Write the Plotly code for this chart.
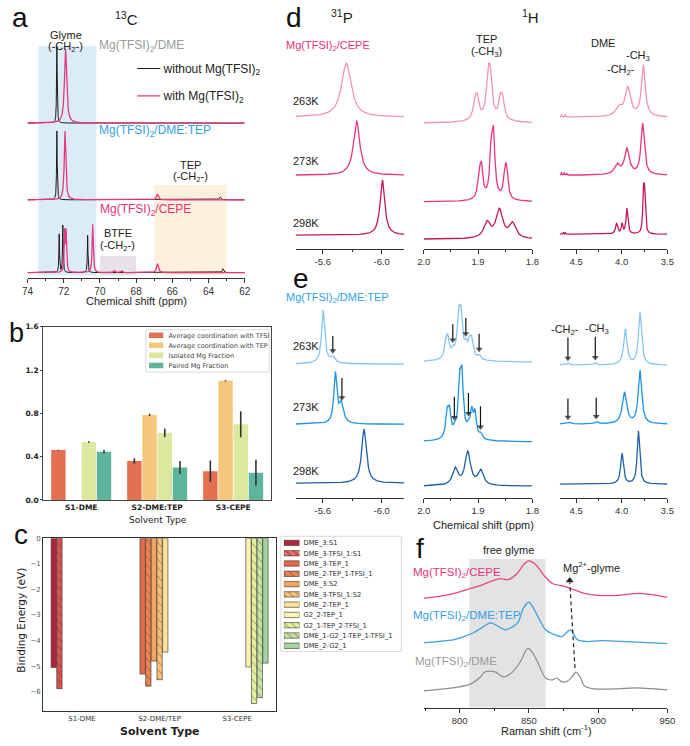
import numpy as np
import plotly.graph_objects as go

# ======================= DATA =======================
# (a) 13C NMR, peaks as (shift ppm, amplitude a.u., half-width ppm); stack offsets a.u.
A_SAMPLES = ["Mg(TFSI)<sub>2</sub>/DME", "Mg(TFSI)<sub>2</sub>/DME:TEP", "Mg(TFSI)<sub>2</sub>/CEPE"]
A_KEY = ["without Mg(TFSI)<sub>2</sub>", "with Mg(TFSI)<sub>2</sub>"]
A_OFFSETS = [157, 79, 5]
A_WITHOUT = [
    [(72.38, 78, 0.02)],
    [(72.38, 70, 0.02), (63.35, 3, 0.05)],
    [(72.25, 39, 0.02), (72.05, 48, 0.02), (70.68, 38, 0.02), (63.20, 4, 0.04)],
]
A_WITH = [
    [(71.90, 75, 0.07)],
    [(71.93, 70, 0.05), (66.82, 6, 0.06)],
    [(71.95, 40, 0.03), (71.87, 40, 0.03), (70.40, 49, 0.035), (66.82, 9, 0.06),
     (69.20, 2, 0.05), (68.80, 2, 0.05)],
]
A_TICKS = [74, 72, 70, 68, 66, 64, 62]
A_MINOR = [73, 71, 69, 67, 65, 63]
A_GLYME_BAND = (73.4, 70.2)
A_TEP_BAND = (67.0, 63.0)
A_BTFE_BAND = (70.0, 68.0)

# (b) MD coordination statistics
B_CATS = ["S1-DME", "S2-DME:TEP", "S3-CEPE"]
B_SERIES = ["Average coordination with TFSI", "Average coordination with TEP",
            "Isolated Mg Fraction", "Paired Mg Fraction"]
B_VALUES = [
    [0.46, 0.36, 0.265],
    [0.0, 0.785, 1.10],
    [0.535, 0.62, 0.70],
    [0.445, 0.30, 0.25],
]
B_ERRORS = [
    [0.004, 0.026, 0.10],
    [0.0, 0.01, 0.005],
    [0.008, 0.04, 0.12],
    [0.015, 0.06, 0.12],
]
B_TICKS = [0.0, 0.4, 0.8, 1.2, 1.6]

# (c) binding energies (eV)
C_CATS = ["S1-DME", "S2-DME/TEP", "S3-CEPE"]
C_SERIES = ["DME_3:S1", "DME_3-TFSI_1:S1", "DME_3-TEP_1", "DME_2-TEP_1-TFSI_1", "DME_3:S2",
            "DME_3-TFSI_1:S2", "DME_2-TEP_1", "G2_2-TEP_1", "G2_1-TEP_2-TFSI_1",
            "DME_1-G2_1-TEP_1-TFSI_1", "DME_2-G2_1"]
C_CAT_INDEX = [0, 0, 1, 1, 1, 1, 1, 2, 2, 2, 2]
C_VALUES = [-5.05, -5.88, -5.31, -5.78, -4.80, -5.53, -4.45, -5.03, -6.46, -6.23, -4.88]
C_HATCHED = [False, True, False, True, False, True, False, False, True, True, False]
C_TICKS = [-6, -5, -4, -3, -2, -1, 0]

# (d)/(e) variable-temperature NMR, peaks (ppm, amplitude, half-width); stack offsets
TEMPS = ["263K", "273K", "298K"]
D_P_OFFSETS = [134, 75, 14]
D_P_PEAKS = [[(-5.76, 55, 0.039)], [(-5.83, 55, 0.026)], [(-6.005, 56, 0.019)]]
D_TEP_OFFSETS = [128, 48, 10]
D_TEP_PEAKS = [
    [(1.9058, 18, 0.0036), (1.9014, 18, 0.0036), (1.8816, 36, 0.0036), (1.8775, 36, 0.0036),
     (1.8589, 18, 0.0036), (1.8546, 18, 0.0036), (1.880, 5, 0.025)],
    [(1.8979, 23, 0.003), (1.8937, 29, 0.003), (1.8757, 44, 0.003), (1.8715, 56, 0.003),
     (1.8505, 22, 0.003), (1.8474, 24, 0.003), (1.873, 4, 0.02)],
    [(1.8834, 16, 0.007), (1.8607, 29, 0.0075), (1.8366, 15, 0.007)],
]
D_DME_OFFSETS = [134, 75, 15]
D_DME_PEAKS = [
    [(3.763, 52, 0.025), (3.935, 29, 0.035), (4.032, 9, 0.04), (4.66, 3, 0.003), (4.62, 3, 0.003)],
    [(3.771, 52, 0.022), (3.943, 26, 0.032), (4.05, 10, 0.035), (4.66, 3, 0.003),
     (4.63, 3, 0.003), (4.60, 2, 0.003)],
    [(3.762, 37, 0.009), (3.750, 37, 0.009), (3.943, 26, 0.012), (3.997, 10, 0.01),
     (4.057, 11, 0.013), (4.64, 2, 0.003), (4.62, 2, 0.003)],
]
E_P_OFFSETS = [136, 75, 15]
E_P_PEAKS = [
    [(-5.602, 52, 0.012), (-5.668, 5, 0.015), (-5.62, 3, 0.06)],
    [(-5.685, 50, 0.012), (-5.725, 20, 0.018)],
    [(-5.88, 55, 0.019)],
]
E_TEP_OFFSETS = [138, 57, 12]
E_TEP_PEAKS = [
    [(1.9590, 16, 0.003), (1.9555, 16, 0.003), (1.9465, 6, 0.003), (1.9357, 36, 0.003),
     (1.9315, 35, 0.003), (1.9225, 8, 0.003), (1.9160, 12, 0.003), (1.9120, 16, 0.003),
     (1.8980, 4, 0.003), (1.930, 8, 0.02)],
    [(1.9570, 24, 0.003), (1.9526, 24, 0.003), (1.9436, 5, 0.003), (1.9340, 48, 0.003),
     (1.9297, 53, 0.003), (1.9177, 8, 0.003), (1.9117, 24, 0.003), (1.9057, 24, 0.003),
     (1.8955, 5, 0.003), (1.930, 6, 0.02)],
    [(1.942, 17, 0.006), (1.919, 34, 0.006), (1.895, 15, 0.006)],
]
E_DME_OFFSETS = [135, 75, 14]
E_DME_PEAKS = [
    [(3.80, 53, 0.02), (3.96, 36, 0.022), (4.59, 2, 0.02), (4.29, 2.5, 0.015)],
    [(3.80, 54, 0.022), (3.97, 32, 0.028), (4.59, 2, 0.03), (4.28, 2.5, 0.02)],
    [(3.817, 54, 0.016), (3.997, 31, 0.018)],
]
E_P_ARROWS = [[-5.668], [-5.73], []]
E_TEP_ARROWS = [[1.9465, 1.9225, 1.898], [1.9436, 1.9177, 1.8955], []]
E_DME_ARROWS = [[4.59, 4.29], [4.59, 4.28], []]

# (f) Raman spectra (cm-1, intensity a.u. incl. stack offset)
F_CEPE_X = [774, 785, 796, 808, 815, 822, 829, 835, 842, 846, 850, 855, 861, 867, 876, 880,
            890, 900, 915, 930, 950]
F_CEPE_Y = [111, 113, 116, 121, 124, 128, 131, 130, 137, 145, 149, 145, 134, 126, 123, 121,
            116, 114, 114, 116, 112]
F_TEP_X = [774, 784, 796, 803, 810, 817, 822, 826, 833, 838, 842, 846, 850, 852, 857, 862,
           867, 874, 877, 880, 882, 885, 892, 902, 921, 950]
F_TEP_Y = [66, 67, 69, 72, 76, 82, 86, 84, 79, 82, 86, 101, 107, 104, 91, 79, 75, 72, 76,
           79, 75, 69, 67, 68, 67, 65]
F_DME_X = [774, 789, 800, 808, 815, 818, 822, 826, 832, 838, 844, 849, 852, 857, 862, 867,
           870, 874, 878, 881, 884, 887, 890, 897, 914, 926, 950]
F_DME_Y = [17, 19, 21, 24, 31, 36, 37, 36, 31, 36, 47, 60, 57, 44, 30, 28, 30, 26, 27, 31,
           36, 31, 22, 19, 19, 20, 18]
F_FREE_BAND = (807, 862)
F_ARROW = dict(x0=883.3, y0=40, x1=879.5, y1=132)

# ======================= STYLE / LAYOUT =======================
W, H = 690, 746
SANS = "Liberation Sans, Arial, Helvetica, sans-serif"
MPL = "DejaVu Sans, sans-serif"
PINK = "#e6337a"
BLUE = "#2f9fe6"
GREY = "#9a9a9a"
B_COLORS = ["#e47052", "#f5c77e", "#dbe8a0", "#5fb49c"]
C_COLORS = ["#a9263e", "#d9534d", "#e4684a", "#ee8551", "#f4a460", "#f8c175", "#fce09a",
            "#fbf3b4", "#e6ef9c", "#c9e4a0", "#a3d69c"]
D_COLORS = ["#f592ba", "#e8357e", "#c2185b"]
E_COLORS = ["#85c5f0", "#1e93ea", "#1f5ea6"]
KEY_SPAN = [0, 1]
KEY_FULL = 1


def px(x):
    return x / W


def py(y):
    return 1 - y / H


def lor(grid, offset, peaks):
    y = np.full(grid.shape, float(offset))
    for c, a, g in peaks:
        y = y + a / (1.0 + ((grid - c) / g) ** 2)
    return y


A_GRID = np.linspace(74, 62, 4001)
P_GRID = np.linspace(-5.415, -6.153, 1500)
TEP_GRID = np.linspace(2.0, 1.8, 2500)
DME_GRID = np.linspace(4.68, 3.5, 3000)

fig = go.Figure()
ann = []
shapes = []


def T(text, x, y, size=11, color="#222", xanchor="center", yanchor="middle", family=SANS, **kw):
    ann.append(dict(text=text, x=px(x), y=py(y), xref="paper", yref="paper", xanchor=xanchor,
                    yanchor=yanchor, showarrow=False, font=dict(family=family, size=size, color=color), **kw))


def line(x, y, color, width, xa, ya, **kw):
    fig.add_trace(go.Scatter(x=x, y=y, mode="lines", line=dict(color=color, width=width, **kw),
                             xaxis=xa, yaxis=ya, hoverinfo="skip", showlegend=False))


# ---------------- (a) ----------------
for k in range(3):
    line(A_GRID, lor(A_GRID, A_OFFSETS[k], A_WITHOUT[k]), "#1b1b1b", 1.0, "x", "y")
for k in range(3):
    line(A_GRID, lor(A_GRID, A_OFFSETS[k], A_WITH[k]), "#e8387c", 1.3, "x", "y")
shapes.append(dict(type="rect", xref="x", yref="y", x0=A_GLYME_BAND[0], x1=A_GLYME_BAND[1], y0=2, y1=235,
                   fillcolor="#dcecf6", line=dict(width=0), layer="below"))
shapes.append(dict(type="rect", xref="x", yref="y", x0=A_TEP_BAND[0], x1=A_TEP_BAND[1], y0=2, y1=94,
                   fillcolor="#fdf0dc", line=dict(width=0), layer="below"))
shapes.append(dict(type="rect", xref="x", yref="y", x0=A_BTFE_BAND[0], x1=A_BTFE_BAND[1], y0=2, y1=22,
                   fillcolor="#e7e2ea", line=dict(width=0), layer="below"))
# key for (a)
line(KEY_SPAN, [A_KEY[0]] * 2, "#1b1b1b", 1.0, "x13", "y13")
line(KEY_SPAN, [A_KEY[1]] * 2, "#e8387c", 1.3, "x13", "y13")

T("a", 3, 13, size=28, color="#111", xanchor="left")
T("<sup>13</sup>C", 122, 14, size=15)
T("Glyme", 60, 30)
T("(-CH<sub>2</sub>-)", 60, 43)
T(A_SAMPLES[0], 92, 42, size=12, color=GREY, xanchor="left")
T(A_SAMPLES[1], 92, 128, size=12, color=BLUE, xanchor="left")
T("TEP", 188, 163)
T("(-CH<sub>2</sub>-)", 188, 175)
T(A_SAMPLES[2], 93, 208, size=12, color=PINK, xanchor="left")
T("BTFE", 113, 232)
T("(-CH<sub>2</sub>-)", 113, 245)
T("Chemical shift (ppm)", 132, 301, size=11)

# ---------------- (b) ----------------
for s in range(4):
    fig.add_trace(go.Bar(x=B_CATS, y=B_VALUES[s], name=B_SERIES[s], marker=dict(color=B_COLORS[s], line=dict(width=0)),
                         error_y=dict(type="data", array=B_ERRORS[s], color="#333", thickness=1.6, width=0),
                         xaxis="x2", yaxis="y2", hoverinfo="skip", showlegend=False))
fig.add_trace(go.Bar(x=[KEY_FULL] * 4, y=B_SERIES, orientation="h", width=0.55,
                     marker=dict(color=B_COLORS, line=dict(width=0)), xaxis="x11", yaxis="y11",
                     hoverinfo="skip", showlegend=False))
shapes.append(dict(type="rect", xref="paper", yref="paper", x0=px(142), x1=px(268), y0=py(373), y1=py(330),
                   fillcolor="white", line=dict(color="#cfcfcf", width=0.8), layer="below"))
T("b", 0, 333, size=27, color="#111", xanchor="left")
T("Solvent Type", 154, 523, size=9, family=MPL)

# ---------------- (c) ----------------
for i, name in enumerate(C_SERIES):
    fig.add_trace(go.Bar(x=[C_CATS[C_CAT_INDEX[i]]], y=[C_VALUES[i]], name=name,
                         marker=dict(color=C_COLORS[i], line=dict(color="#333", width=0.6),
                                     pattern=dict(shape="\\" if C_HATCHED[i] else "", fgcolor="#333",
                                                  size=6, solidity=0.15)),
                         xaxis="x3", yaxis="y3", hoverinfo="skip", showlegend=False))
fig.add_trace(go.Bar(x=[KEY_FULL] * len(C_SERIES), y=C_SERIES, orientation="h", width=0.52,
                     marker=dict(color=C_COLORS, line=dict(color="#333", width=0.6),
                                 pattern=dict(shape=["\\" if h else "" for h in C_HATCHED], fgcolor="#333",
                                              size=5, solidity=0.2)),
                     xaxis="x12", yaxis="y12", hoverinfo="skip", showlegend=False))
shapes.append(dict(type="rect", xref="paper", yref="paper", x0=px(280), x1=px(403), y0=py(657), y1=py(540),
                   fillcolor="white", line=dict(color="#cfcfcf", width=0.8), layer="below"))
T("c", 5, 538, size=28, color="#111", xanchor="left")
T("Binding Energy (eV)", 14, 625, size=10.5, family=MPL, textangle=-90)
T("<b>Solvent Type</b>", 156, 738, size=11, family=MPL)


# ---------------- (d) / (e) ----------------
def nmr_column(grid, offsets, peaks, colors, xa, ya):
    curves = []
    for i in range(3):
        y = lor(grid, offsets[i], peaks[i])
        line(grid, y, colors[i], 1.3, xa, ya)
        curves.append(y)
    return curves


nmr_column(P_GRID, D_P_OFFSETS, D_P_PEAKS, D_COLORS, "x4", "y4")
nmr_column(TEP_GRID, D_TEP_OFFSETS, D_TEP_PEAKS, D_COLORS, "x5", "y5")
nmr_column(DME_GRID, D_DME_OFFSETS, D_DME_PEAKS, D_COLORS, "x6", "y6")
eP = nmr_column(P_GRID, E_P_OFFSETS, E_P_PEAKS, E_COLORS, "x7", "y7")
eT = nmr_column(TEP_GRID, E_TEP_OFFSETS, E_TEP_PEAKS, E_COLORS, "x8", "y8")
eD = nmr_column(DME_GRID, E_DME_OFFSETS, E_DME_PEAKS, E_COLORS, "x9", "y9")


def arrows(grid, curves, spots, xa, ya, lengths):
    # y axes of (d)/(e) are 1 unit per pixel, so arrow lengths are in pixels
    order = np.argsort(grid)
    for i, xs in enumerate(spots):
        for xv in xs:
            tip = float(np.interp(xv, grid[order], curves[i][order])) + 2.0
            fig.add_trace(go.Scatter(x=[xv, xv], y=[tip + lengths[i], tip + 3], mode="lines+markers",
                                     line=dict(color="#111", width=1.2),
                                     marker=dict(symbol="triangle-down", size=[0, 6], color="#111",
                                                 line=dict(width=0)),
                                     xaxis=xa, yaxis=ya, hoverinfo="skip", showlegend=False))


arrows(P_GRID, eP, E_P_ARROWS, "x7", "y7", [18, 23, 0])
arrows(TEP_GRID, eT, E_TEP_ARROWS, "x8", "y8", [19, 24, 0])
arrows(DME_GRID, eD, E_DME_ARROWS, "x9", "y9", [24, 22, 0])

T("d", 283, 13, size=28, color="#111", xanchor="left")
T("<sup>31</sup>P", 342, 12, size=15)
T("<sup>1</sup>H", 535, 12, size=15)
T("Mg(TFSI)<sub>2</sub>/CEPE", 283, 42, size=11, color=PINK, xanchor="left")
T("TEP", 490, 35)
T("(-CH<sub>3</sub>)", 490, 48)
T("DME", 609, 39)
T("-CH<sub>2</sub>-", 628, 66)
T("-CH<sub>3</sub>", 645, 52)
for lbl, yy in zip(TEMPS, [98, 159, 222]):
    T(lbl, 290, yy, size=11, xanchor="left")

T("e", 290, 278, size=28, color="#111", xanchor="left")
T("Mg(TFSI)<sub>2</sub>/DME:TEP", 283, 298, size=11, color=BLUE, xanchor="left")
for lbl, yy in zip(TEMPS, [347, 409, 474]):
    T(lbl, 290, yy, size=11, xanchor="left")
T("-CH<sub>2</sub>-", 570, 330)
T("-CH<sub>3</sub>", 603, 329)
T("Chemical shift (ppm)", 487, 529, size=11)

# ---------------- (f) ----------------
shapes.append(dict(type="rect", xref="x10", yref="y10", x0=F_FREE_BAND[0], x1=F_FREE_BAND[1], y0=0, y1=151,
                   fillcolor="#e3e3e3", line=dict(width=0), layer="below"))
line(F_DME_X, F_DME_Y, "#8c8c8c", 1.2, "x10", "y10", shape="spline", smoothing=0.8)
line(F_TEP_X, F_TEP_Y, "#3ea0e0", 1.3, "x10", "y10", shape="spline", smoothing=0.8)
line(F_CEPE_X, F_CEPE_Y, "#e8457e", 1.3, "x10", "y10", shape="spline", smoothing=0.8)
line([F_ARROW["x0"], F_ARROW["x1"]], [F_ARROW["y0"], F_ARROW["y1"] - 5], "#222", 1.2, "x10", "y10",
     dash="4px,3px")
fig.add_trace(go.Scatter(x=[F_ARROW["x1"]], y=[F_ARROW["y1"] - 3], mode="markers",
                         marker=dict(symbol="triangle-up", size=7, color="#222", line=dict(width=0)),
                         xaxis="x10", yaxis="y10", hoverinfo="skip", showlegend=False))
T("f", 416, 552, size=28, color="#111", xanchor="left")
T("free glyme", 513, 554)
T("Mg<sup>2+</sup>-glyme", 566, 571, xanchor="left")
T("Mg(TFSI)<sub>2</sub>/CEPE", 413, 577, size=11.5, color=PINK, xanchor="left")
T("Mg(TFSI)<sub>2</sub>/DME:TEP", 413, 621, size=11.5, color=BLUE, xanchor="left")
T("Mg(TFSI)<sub>2</sub>/DME", 415, 668, size=11.5, color=GREY, xanchor="left")
T("Raman shift (cm<sup>-1</sup>)", 551, 737, size=11)


# ======================= AXES =======================
def spec_x(d0, d1, rng, vals, texts, minor, anchor, size=9.5):
    return dict(domain=[px(d0), px(d1)], range=rng, anchor=anchor, tickmode="array", tickvals=vals, ticktext=texts,
                ticks="outside", ticklen=4, tickwidth=1, tickcolor="#333", showline=True, linecolor="#333",
                linewidth=1, showgrid=False, zeroline=False, fixedrange=True,
                tickfont=dict(family=SANS, size=size, color="#333"),
                minor=dict(tickmode="array", tickvals=minor, ticks="outside", ticklen=2, tickcolor="#333",
                           showgrid=False))


def hidden_y(d0, d1, rng, anchor):
    return dict(domain=[py(d1), py(d0)], range=rng, anchor=anchor, visible=False, showgrid=False, zeroline=False)


P_T = dict(vals=[-5.6, -6.0], texts=["-5.6", "-6.0"], minor=[-5.4, -5.8])
TEP_T = dict(vals=[2.0, 1.9, 1.8], texts=["2.0", "1.9", "1.8"], minor=[1.95, 1.85])
DME_T = dict(vals=[4.5, 4.0, 3.5], texts=["4.5", "4.0", "3.5"], minor=[4.25, 3.75])

layout = dict(
    width=W, height=H, margin=dict(l=0, r=0, t=0, b=0), paper_bgcolor="white",
    plot_bgcolor="rgba(0,0,0,0)", showlegend=False, barmode="group", bargap=0.2, bargroupgap=0.05,
    annotations=ann, shapes=shapes, font=dict(family=SANS),
    xaxis=spec_x(21, 243, [74, 62], A_TICKS, [str(t) for t in A_TICKS], A_MINOR, "y", size=10),
    yaxis=hidden_y(40, 277, [0, 237], "x"),
    xaxis2=dict(domain=[px(37), px(270)], anchor="y2", type="category", showline=True, mirror=True,
                linecolor="#444", linewidth=1, ticks="", showgrid=False,
                tickfont=dict(family=MPL, size=7.5, color="#222", weight="bold")),
    yaxis2=dict(domain=[py(503), py(327)], anchor="x2", range=[0, 1.6], tickmode="array", tickvals=B_TICKS,
                tickformat=".1f", showline=True, mirror=True, linecolor="#444", linewidth=1, ticks="outside",
                ticklen=2, tickcolor="#444", showgrid=False, zeroline=False,
                tickfont=dict(family=MPL, size=7.5, color="#222", weight="bold")),
    xaxis3=dict(domain=[px(37), px(275)], anchor="y3", type="category", showline=True, mirror=True,
                linecolor="#333", linewidth=1, ticks="", showgrid=False,
                tickfont=dict(family=MPL, size=7, color="#333")),
    yaxis3=dict(domain=[py(718), py(542)], anchor="x3", range=[-6.77, 0], tickmode="array", tickvals=C_TICKS,
                showline=True, mirror=True, linecolor="#333", linewidth=1, ticks="", showgrid=False,
                zeroline=False, tickfont=dict(family=MPL, size=7, color="#555")),
    xaxis4=spec_x(295, 406, [-5.415, -6.153], P_T["vals"], P_T["texts"], P_T["minor"], "y4"),
    yaxis4=hidden_y(30, 248, [0, 218], "x4"),
    xaxis5=spec_x(426, 537, [2.0, 1.8], TEP_T["vals"], TEP_T["texts"], TEP_T["minor"], "y5"),
    yaxis5=hidden_y(30, 248, [0, 218], "x5"),
    xaxis6=spec_x(565, 675, [4.68, 3.5], DME_T["vals"], DME_T["texts"], DME_T["minor"], "y6"),
    yaxis6=hidden_y(30, 248, [0, 218], "x6"),
    xaxis7=spec_x(295, 406, [-5.415, -6.153], P_T["vals"], P_T["texts"], P_T["minor"], "y7"),
    yaxis7=hidden_y(283, 501, [0, 218], "x7"),
    xaxis8=spec_x(426, 537, [2.0, 1.8], TEP_T["vals"], TEP_T["texts"], TEP_T["minor"], "y8"),
    yaxis8=hidden_y(283, 501, [0, 218], "x8"),
    xaxis9=spec_x(565, 675, [4.68, 3.5], DME_T["vals"], DME_T["texts"], DME_T["minor"], "y9"),
    yaxis9=hidden_y(283, 501, [0, 218], "x9"),
    xaxis10=spec_x(426, 675, [774, 950], [800, 850, 900, 950], ["800", "850", "900", "950"],
                   [775, 825, 875, 925], "y10"),
    yaxis10=hidden_y(563, 714, [0, 151], "x10"),
    # legend keys drawn as small axes
    xaxis11=dict(domain=[px(145), px(160)], range=[0, 1], anchor="y11", visible=False),
    yaxis11=dict(domain=[py(371.5), py(330.5)], anchor="x11", type="category", autorange="reversed",
                 side="right", showline=False, ticks="", showgrid=False, zeroline=False, ticklabelstandoff=4,
                 tickfont=dict(family=MPL, size=6.5, color="#444")),
    xaxis12=dict(domain=[px(283), px(299)], range=[0, 1], anchor="y12", visible=False),
    yaxis12=dict(domain=[py(656.5), py(541.5)], anchor="x12", type="category", autorange="reversed",
                 side="right", showline=False, ticks="", showgrid=False, zeroline=False, ticklabelstandoff=3,
                 tickfont=dict(family=MPL, size=6.8, color="#333")),
    xaxis13=dict(domain=[px(133), px(157)], range=[0, 1], anchor="y13", visible=False),
    yaxis13=dict(domain=[py(94), py(63)], anchor="x13", type="category", autorange="reversed",
                 side="right", showline=False, ticks="", showgrid=False, zeroline=False, ticklabelstandoff=2,
                 tickfont=dict(family=SANS, size=12, color="#222")),
)
fig.update_layout(**layout)
fig.write_html("out.html")
